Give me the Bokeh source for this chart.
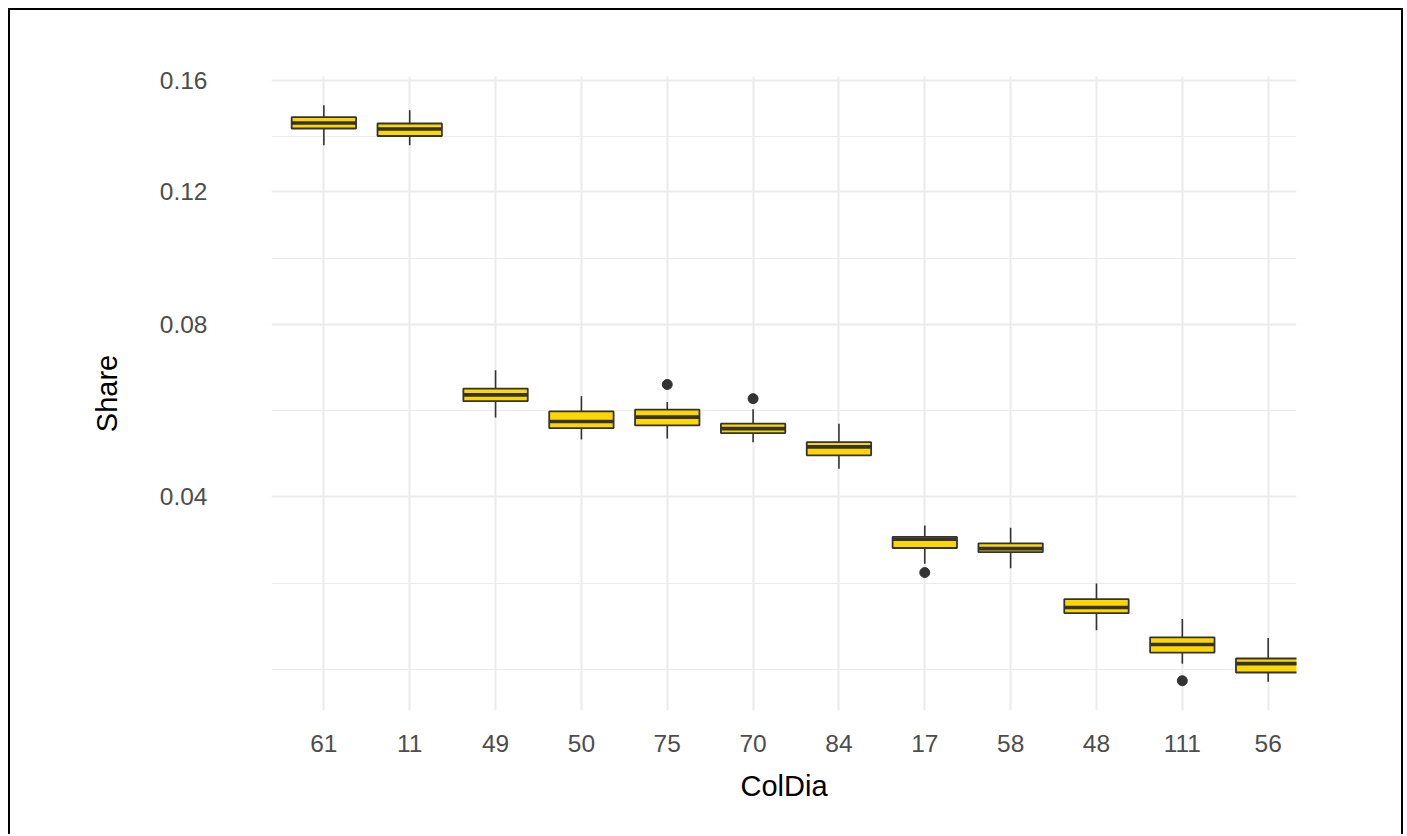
import numpy as np
from bokeh.plotting import figure
from bokeh.models import Range1d, FixedTicker, ColumnDataSource, CustomJSTickFormatter
from bokeh.embed import file_html
from bokeh.resources import INLINE

# ---- data ----
categories = ["61", "11", "49", "50", "75", "70", "84", "17", "58", "48", "111", "56"]
whisker_low = [0.1360, 0.1360, 0.0567, 0.0518, 0.0520, 0.0512, 0.0456, 0.0282, 0.0275, 0.0185, 0.0144, 0.0124]
q1 = [0.1420, 0.1393, 0.0605, 0.0543, 0.0549, 0.0532, 0.0484, 0.0308, 0.0301, 0.0208, 0.0157, 0.0134]
median = [0.1440, 0.1418, 0.0620, 0.0558, 0.0568, 0.0542, 0.0502, 0.0323, 0.0307, 0.0216, 0.0167, 0.0144]
q3 = [0.1461, 0.1438, 0.0635, 0.0581, 0.0585, 0.0553, 0.0512, 0.0327, 0.0316, 0.0228, 0.0176, 0.0150]
whisker_high = [0.1505, 0.1487, 0.0680, 0.0617, 0.0603, 0.0586, 0.0553, 0.0347, 0.0343, 0.0251, 0.0200, 0.0175]
outlier_cat = ["75", "70", "17", "111"]
outlier_val = [0.0645, 0.0611, 0.0268, 0.0125]
y_breaks = [0.04, 0.08, 0.12, 0.16]

# ---- sqrt-transformed positions ----
pos = np.arange(1, len(categories) + 1, dtype=float)
half = 0.375
src = ColumnDataSource(dict(
    x=pos, left=pos - half, right=pos + half,
    lo=np.sqrt(whisker_low), q1=np.sqrt(q1), med=np.sqrt(median),
    q3=np.sqrt(q3), hi=np.sqrt(whisker_high),
))
out_x = [categories.index(c) + 1 for c in outlier_cat]
out_src = ColumnDataSource(dict(x=out_x, y=np.sqrt(outlier_val)))

all_t = np.sqrt(np.array(whisker_low + whisker_high + outlier_val))
lo_t, hi_t = all_t.min(), all_t.max()
pad = 0.05 * (hi_t - lo_t)

# major / minor breaks in transformed space (ggplot style)
b = list(np.sqrt(y_breaks))
bd = b[1] - b[0]
ext = [b[0] - bd] + b + [b[-1] + bd]
minor = []
for a, c in zip(ext[:-1], ext[1:]):
    minor += [a, (a + c) / 2]
minor = [m for m in minor if not any(abs(m - t) < 1e-9 for t in b)]

p = figure(width=1395, height=826, output_backend="svg", toolbar_location=None,
           x_range=Range1d(0.39, 12.33), y_range=Range1d(lo_t - pad, hi_t + pad),
           min_border_left=261, min_border_right=109, min_border_top=66, min_border_bottom=126)
p.margin = (8, 0, 0, 8)
p.styles = {"border-top": "2px solid black", "border-left": "2px solid black",
            "border-right": "2px solid black", "border-bottom": "none"}
p.outline_line_color = None
p.background_fill_color = "white"
p.border_fill_color = "white"

FONT = "Liberation Sans"
xt = FixedTicker(ticks=list(pos))
yt = FixedTicker(ticks=b, minor_ticks=minor)
p.xaxis.ticker = xt
p.yaxis.ticker = yt
p.xaxis.major_label_overrides = {int(i): c for i, c in zip(pos, categories)}
p.yaxis.formatter = CustomJSTickFormatter(code="return (tick*tick).toFixed(2);")

for ax in (p.xaxis[0], p.yaxis[0]):
    ax.axis_line_color = None
    ax.major_tick_line_color = None
    ax.minor_tick_line_color = None
    ax.major_label_text_font = FONT
    ax.major_label_text_font_size = "24.5px"
    ax.major_label_text_color = "#4D4D4D"
    ax.axis_label_text_font = FONT
    ax.axis_label_text_font_size = "29px"
    ax.axis_label_text_font_style = "normal"
    ax.axis_label_text_color = "black"

p.xaxis.axis_label = "ColDia"
p.yaxis.axis_label = "Share"
p.xaxis.major_label_standoff = 18
p.xaxis.axis_label_standoff = 15
p.yaxis.major_label_standoff = 58
p.yaxis.axis_label_standoff = 34

p.xgrid.grid_line_color = "#EBEBEB"
p.xgrid.grid_line_width = 2
p.ygrid.grid_line_color = "#EBEBEB"
p.ygrid.grid_line_width = 2
p.ygrid.minor_grid_line_color = "#EBEBEB"
p.ygrid.minor_grid_line_width = 1.2

LC = "#333333"
p.segment(x0="x", y0="lo", x1="x", y1="q1", source=src, line_color=LC, line_width=1.6)
p.segment(x0="x", y0="q3", x1="x", y1="hi", source=src, line_color=LC, line_width=1.6)
p.quad(left="left", right="right", bottom="q1", top="q3", source=src,
       fill_color="#FFD700", line_color=LC, line_width=1.8)
p.segment(x0="left", y0="med", x1="right", y1="med", source=src, line_color=LC, line_width=3.6)
p.scatter(x="x", y="y", source=out_src, size=10, fill_color=LC, line_color=LC)

open("out.html", "w").write(file_html(p, INLINE))
